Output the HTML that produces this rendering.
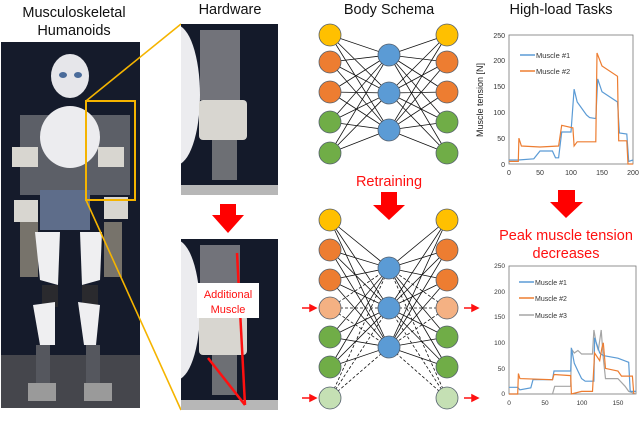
<!DOCTYPE html>
<html><head><meta charset="utf-8"><style>
html,body{margin:0;padding:0;background:#fff;}
svg{display:block;font-family:"Liberation Sans",sans-serif;}
</style></head><body>
<svg width="640" height="438" viewBox="0 0 640 438" xmlns="http://www.w3.org/2000/svg">
<defs>
<clipPath id="c1"><rect x="181" y="24" width="97" height="171"/></clipPath>
<clipPath id="c2"><rect x="181" y="239" width="97" height="171"/></clipPath>
</defs>
<!-- titles -->
<g font-size="14.5" fill="#111" text-anchor="middle">
<text x="74" y="17">Musculoskeletal</text>
<text x="74" y="35">Humanoids</text>
<text x="230" y="14">Hardware</text>
<text x="389" y="14">Body Schema</text>
<text x="561" y="14">High-load Tasks</text>
</g>
<!-- main photo -->
<rect x="1" y="42" width="139" height="366" fill="#151b2b"/>
<rect x="1" y="355" width="139" height="53" fill="#45464c"/>
<ellipse cx="70" cy="76" rx="19" ry="22" fill="#e6e6ea"/>
<ellipse cx="63" cy="75" rx="4" ry="3" fill="#4a6b9a"/><ellipse cx="78" cy="75" rx="4" ry="3" fill="#4a6b9a"/>
<rect x="20" y="115" width="110" height="80" fill="#7a7c82" opacity="0.7"/>
<ellipse cx="70" cy="137" rx="30" ry="31" fill="#ececef"/>
<rect x="12" y="147" width="26" height="20" fill="#d8d6d0"/>
<rect x="98" y="147" width="26" height="20" fill="#d8d6d0"/>
<rect x="14" y="200" width="24" height="22" fill="#d8d6d0"/>
<rect x="104" y="197" width="24" height="22" fill="#d8d6d0"/>
<rect x="40" y="190" width="50" height="40" fill="#5e6d8a"/>
<rect x="20" y="222" width="18" height="55" fill="#77736b"/>
<rect x="104" y="222" width="18" height="55" fill="#77736b"/>
<path d="M35 232 L60 232 L58 285 L40 280 Z" fill="#efeff1"/>
<path d="M80 232 L102 232 L100 280 L82 285 Z" fill="#efeff1"/>
<rect x="42" y="285" width="16" height="22" fill="#2a2a2e"/>
<rect x="82" y="285" width="16" height="22" fill="#2a2a2e"/>
<path d="M33 305 L55 302 L55 345 L40 345 Z" fill="#efeff1"/>
<path d="M78 302 L100 305 L96 345 L84 345 Z" fill="#efeff1"/>
<rect x="36" y="345" width="14" height="38" fill="#55575e"/>
<rect x="86" y="345" width="14" height="38" fill="#55575e"/>
<rect x="28" y="383" width="28" height="18" fill="#9a9a9a"/>
<rect x="84" y="383" width="28" height="18" fill="#9a9a9a"/>
<rect x="86" y="101" width="49" height="99" fill="none" stroke="#f5b400" stroke-width="2"/>
<line x1="86" y1="101" x2="181" y2="24" stroke="#f5b400" stroke-width="1.6"/>
<line x1="86" y1="200" x2="181" y2="410" stroke="#f5b400" stroke-width="1.6"/>
<!-- hardware photos -->
<g clip-path="url(#c1)">
<rect x="181" y="24" width="97" height="171" fill="#141a2a"/>
<rect x="200" y="30" width="40" height="70" fill="#8a8a8e" opacity="0.8"/>
<ellipse cx="176" cy="95" rx="24" ry="70" fill="#ececef"/>
<rect x="199" y="100" width="48" height="40" rx="4" fill="#d8d6d0"/>
<rect x="212" y="140" width="25" height="40" fill="#6d6f74"/>
<rect x="181" y="185" width="97" height="10" fill="#b7b7b7"/>
</g>
<g clip-path="url(#c2)">
<rect x="181" y="239" width="97" height="171" fill="#141a2a"/>
<rect x="200" y="245" width="40" height="70" fill="#8a8a8e" opacity="0.8"/>
<ellipse cx="176" cy="310" rx="24" ry="70" fill="#ececef"/>
<rect x="199" y="315" width="48" height="40" rx="4" fill="#d8d6d0"/>
<rect x="212" y="355" width="25" height="40" fill="#6d6f74"/>
<rect x="181" y="400" width="97" height="10" fill="#b7b7b7"/>
<line x1="237" y1="253" x2="245" y2="405" stroke="#ff1010" stroke-width="2.5"/>
<line x1="208" y1="358" x2="245" y2="405" stroke="#ff1010" stroke-width="2.5"/>
<rect x="197" y="283" width="62" height="35" fill="#fff"/>
<text x="228" y="298" font-size="11" fill="#ff1010" text-anchor="middle">Additional</text>
<text x="228" y="313" font-size="11" fill="#ff1010" text-anchor="middle">Muscle</text>
</g>
<!-- red arrows -->
<polygon points="220,204 236,204 236,215 244,215 228,233 212,215 220,215" fill="#ff0000"/>
<polygon points="381,192 397,192 397,205 405,205 389,220 373,205 381,205" fill="#ff0000"/>
<polygon points="558,190 575,190 575,202 583,202 566,218 550,202 558,202" fill="#ff0000"/>
<text x="389" y="186" font-size="14.5" fill="#ff1010" text-anchor="middle">Retraining</text>
<text x="566" y="240" font-size="14.5" fill="#ff1010" text-anchor="middle">Peak muscle tension</text>
<text x="566" y="258" font-size="14.5" fill="#ff1010" text-anchor="middle">decreases</text>
<!-- networks -->
<g stroke="#111" stroke-width="0.8">
<path d="M330 35L389 55M330 35L389 93M330 35L389 130M330 62L389 55M330 62L389 93M330 62L389 130M330 92L389 55M330 92L389 93M330 92L389 130M330 122L389 55M330 122L389 93M330 122L389 130M330 153L389 55M330 153L389 93M330 153L389 130
M447 35L389 55M447 35L389 93M447 35L389 130M447 62L389 55M447 62L389 93M447 62L389 130M447 92L389 55M447 92L389 93M447 92L389 130M447 122L389 55M447 122L389 93M447 122L389 130M447 153L389 55M447 153L389 93M447 153L389 130"/>
<path d="M330 220L389 268M330 220L389 308M330 220L389 347M330 250L389 268M330 250L389 308M330 250L389 347M330 280L389 268M330 280L389 308M330 280L389 347M330 337L389 268M330 337L389 308M330 337L389 347M330 367L389 268M330 367L389 308M330 367L389 347
M447 220L389 268M447 220L389 308M447 220L389 347M447 250L389 268M447 250L389 308M447 250L389 347M447 280L389 268M447 280L389 308M447 280L389 347M447 337L389 268M447 337L389 308M447 337L389 347M447 367L389 268M447 367L389 308M447 367L389 347"/>
<path stroke-dasharray="3,2" d="M330 308L389 268M330 308L389 308M330 308L389 347M330 398L389 268M330 398L389 308M330 398L389 347M447 308L389 268M447 308L389 308M447 308L389 347M447 398L389 268M447 398L389 308M447 398L389 347"/>
</g>
<g stroke="#55606e" stroke-width="0.8">
<circle cx="330" cy="35" r="11" fill="#ffc000"/><circle cx="330" cy="62" r="11" fill="#ed7d31"/><circle cx="330" cy="92" r="11" fill="#ed7d31"/><circle cx="330" cy="122" r="11" fill="#70ad47"/><circle cx="330" cy="153" r="11" fill="#70ad47"/>
<circle cx="447" cy="35" r="11" fill="#ffc000"/><circle cx="447" cy="62" r="11" fill="#ed7d31"/><circle cx="447" cy="92" r="11" fill="#ed7d31"/><circle cx="447" cy="122" r="11" fill="#70ad47"/><circle cx="447" cy="153" r="11" fill="#70ad47"/>
<circle cx="389" cy="55" r="11" fill="#5b9bd5"/><circle cx="389" cy="93" r="11" fill="#5b9bd5"/><circle cx="389" cy="130" r="11" fill="#5b9bd5"/>
<circle cx="330" cy="220" r="11" fill="#ffc000"/><circle cx="330" cy="250" r="11" fill="#ed7d31"/><circle cx="330" cy="280" r="11" fill="#ed7d31"/><circle cx="330" cy="308" r="11" fill="#f4b183"/><circle cx="330" cy="337" r="11" fill="#70ad47"/><circle cx="330" cy="367" r="11" fill="#70ad47"/><circle cx="330" cy="398" r="11" fill="#c5e0b4"/>
<circle cx="447" cy="220" r="11" fill="#ffc000"/><circle cx="447" cy="250" r="11" fill="#ed7d31"/><circle cx="447" cy="280" r="11" fill="#ed7d31"/><circle cx="447" cy="308" r="11" fill="#f4b183"/><circle cx="447" cy="337" r="11" fill="#70ad47"/><circle cx="447" cy="367" r="11" fill="#70ad47"/><circle cx="447" cy="398" r="11" fill="#c5e0b4"/>
<circle cx="389" cy="268" r="11" fill="#5b9bd5"/><circle cx="389" cy="308" r="11" fill="#5b9bd5"/><circle cx="389" cy="347" r="11" fill="#5b9bd5"/>
</g>
<g fill="#ff1010" stroke="#ff1010" stroke-width="1.5">
<line x1="302" y1="308" x2="312" y2="308"/><polygon points="316,308 310,305 310,311"/>
<line x1="302" y1="398" x2="312" y2="398"/><polygon points="316,398 310,395 310,401"/>
<line x1="464" y1="308" x2="474" y2="308"/><polygon points="478,308 472,305 472,311"/>
<line x1="464" y1="398" x2="474" y2="398"/><polygon points="478,398 472,395 472,401"/>
</g>
<!-- chart 1 -->
<rect x="509" y="35" width="124" height="129" fill="none" stroke="#777" stroke-width="0.8"/>
<g font-size="7" fill="#333" text-anchor="end">
<text x="505" y="167">0</text><text x="505" y="141">50</text><text x="505" y="115">100</text><text x="505" y="89">150</text><text x="505" y="63">200</text><text x="505" y="38">250</text>
</g>
<g font-size="7" fill="#333" text-anchor="middle">
<text x="509" y="175">0</text><text x="540" y="175">50</text><text x="571" y="175">100</text><text x="602" y="175">150</text><text x="633" y="175">200</text>
</g>
<text transform="translate(483,100) rotate(-90)" font-size="9" fill="#222" text-anchor="middle">Muscle tension [N]</text>
<polyline fill="none" stroke="#5b9bd5" stroke-width="1.2" points="509,160 518.3,160 533.8,158.8 540,151 552.4,151 555.5,157.8 558.6,157.8 561.7,132 571,132 574.1,89.2 577.2,102 586.5,115 589.6,117.6 595.8,118.6 597.7,78.9 602,91.8 617.5,102 619.4,133 626.8,134 628.7,161.4 633,160"/>
<polyline fill="none" stroke="#ed7d31" stroke-width="1.2" points="509,161.4 518.3,161.4 518.9,138.2 521.4,146 540,147 558.6,146 561.7,125.3 572.9,127.9 574.1,146 577.2,141.8 595.8,141.8 597,53 602,66 617.5,76.3 618.7,140.8 626.8,140.8 628,164 633,164"/>
<line x1="520" y1="55" x2="535" y2="55" stroke="#5b9bd5" stroke-width="1.5"/><text x="536" y="58" font-size="7.5" fill="#333">Muscle #1</text>
<line x1="520" y1="71" x2="535" y2="71" stroke="#ed7d31" stroke-width="1.5"/><text x="536" y="74" font-size="7.5" fill="#333">Muscle #2</text>
<!-- chart 2 -->
<rect x="509" y="266" width="127" height="128" fill="none" stroke="#777" stroke-width="0.8"/>
<g font-size="6.5" fill="#333" text-anchor="end">
<text x="505" y="396">0</text><text x="505" y="371">50</text><text x="505" y="345">100</text><text x="505" y="319">150</text><text x="505" y="294">200</text><text x="505" y="268">250</text>
</g>
<g font-size="6.5" fill="#333" text-anchor="middle">
<text x="509" y="405">0</text><text x="545" y="405">50</text><text x="582" y="405">100</text><text x="618" y="405">150</text>
</g>
<polyline fill="none" stroke="#a5a5a5" stroke-width="1.2" points="509,394 552.5,394 554.7,386.3 570.7,386.3 571.4,349 574.3,353 577.9,350.5 581.6,354 592.5,354 593.9,330 596.1,342.8 598.3,350.5 601.2,330 603.3,358.2 605.5,378.6 617.9,378.6 625.1,386.3 628.7,391.4 636,394"/>
<polyline fill="none" stroke="#5b9bd5" stroke-width="1.2" points="509,387.3 517.7,387.3 519.9,389.9 530.8,387.9 533,379.7 552.5,379.7 554,371 570.7,371 571.4,347.9 574.3,363.3 577.9,371 581.6,378.6 585.2,381.2 593.9,381.2 594.6,337.7 599.7,353 603.3,355.6 617.9,358.2 628.7,362.3 630.2,391.4 636,391.4"/>
<polyline fill="none" stroke="#ed7d31" stroke-width="1.2" points="509,394 517.7,394 518.4,373.5 519.9,378.6 552.5,379.7 554,374.5 570.7,375.6 571.4,394 581.6,391.4 592.5,391.4 594.6,353 599.7,360.7 601.9,347.9 603.3,342.8 605.5,368.4 617.9,371 621.5,376.1 632.4,376.1 633.8,394"/>
<line x1="519" y1="282" x2="534" y2="282" stroke="#5b9bd5" stroke-width="1.5"/><text x="535" y="285" font-size="7" fill="#333">Muscle #1</text>
<line x1="519" y1="298" x2="534" y2="298" stroke="#ed7d31" stroke-width="1.5"/><text x="535" y="301" font-size="7" fill="#333">Muscle #2</text>
<line x1="519" y1="315" x2="534" y2="315" stroke="#a5a5a5" stroke-width="1.5"/><text x="535" y="318" font-size="7" fill="#333">Muscle #3</text>
</svg>
</body></html>
